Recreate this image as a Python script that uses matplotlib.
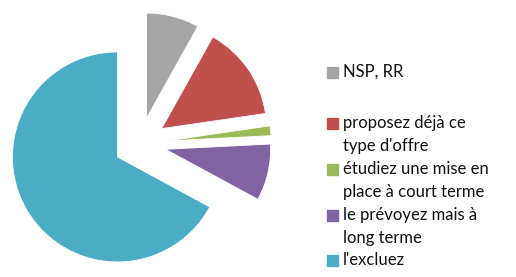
import matplotlib
matplotlib.use("Agg")
import matplotlib.pyplot as plt
from matplotlib.patches import Rectangle

# data (shares in %)
labels = ["NSP, RR",
          "proposez déjà ce\ntype d'offre",
          "étudiez une mise en\nplace à court terme",
          "le prévoyez mais à\nlong terme",
          "l'excluez"]
values = [8.1, 14.6, 1.5, 8.7, 67.1]
colors = ["#A5A5A5", "#C0504D", "#9BBB59", "#8064A2", "#4BACC6"]

W, H = 516, 277
fig = plt.figure(figsize=(W / 100, H / 100), dpi=100)

# pie axes: centre (140, 143) px from top-left, radius 105 px
cx, cy, R = 140, 143.5, 105
L = 1.35
S = 2 * L * R
ax = fig.add_axes([(cx - S / 2) / W, (H - cy - S / 2) / H, S / W, S / H])
ax.pie(values, colors=colors, startangle=90, counterclock=False,
       explode=[0.25] * len(values), radius=1,
       wedgeprops=dict(edgecolor="white", linewidth=0.6))
ax.set_xlim(-L, L)
ax.set_ylim(-L, L)
ax.axis("off")

# legend drawn by hand
font = "Lato"
fs = 12
line_h = 23
first_line_y = [72, 123, 169, 215, 260]
for lab, col, y0 in zip(labels, colors, first_line_y):
    fig.patches.append(Rectangle((327 / W, (H - y0 - 5.5) / H), 11 / W, 11 / H,
                                 transform=fig.transFigure, color=col))
    for i, line in enumerate(lab.split("\n")):
        fig.text(343 / W, (H - (y0 + i * line_h)) / H, line, fontsize=fs,
                 family=font, color="#111111", va="center", ha="left")

fig.savefig("out.png", dpi=100)
